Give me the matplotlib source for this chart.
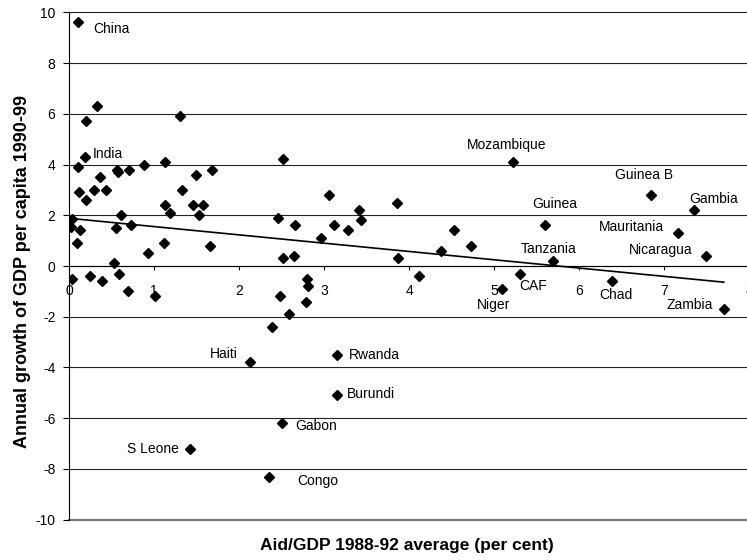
import matplotlib
matplotlib.use('Agg')
import matplotlib.pyplot as plt
import numpy as np

plt.rcParams['font.family'] = ['Liberation Sans', 'DejaVu Sans']
plt.rcParams['axes.unicode_minus'] = False

# Unlabelled countries: aid/GDP 1988-92 (x) and growth 1990-99 (y)
aid_other = [0.20, 0.32, 1.30, 0.10, 0.36, 0.56, 0.57, 0.70, 0.88, 1.12,
             1.49, 1.68, 0.11, 0.20, 0.29, 0.43, 0.03, 0.02, 0.13, 0.09,
             0.61, 0.55, 0.72, 0.52, 0.59, 0.03, 0.24, 0.38, 0.69, 0.92,
             1.01, 1.11, 1.13, 1.19, 1.33, 1.46, 1.57, 1.53, 1.66, 2.45,
             2.66, 2.51, 2.64, 3.06, 3.11, 2.96, 3.28, 3.41, 3.43, 3.86,
             3.87, 2.80, 2.81, 2.48, 2.79, 2.59, 2.51, 2.39, 4.53, 4.72,
             4.37, 4.11]
growth_other = [5.7, 6.3, 5.9, 3.9, 3.5, 3.8, 3.7, 3.8, 4.0, 4.1,
                3.6, 3.8, 2.9, 2.6, 3.0, 3.0, 1.85, 1.55, 1.4, 0.9,
                2.0, 1.5, 1.6, 0.1, -0.3, -0.5, -0.4, -0.6, -1.0, 0.5,
                -1.2, 0.9, 2.4, 2.1, 3.0, 2.4, 2.4, 2.0, 0.8, 1.9,
                1.6, 0.3, 0.4, 2.8, 1.6, 1.1, 1.4, 2.2, 1.8, 2.5,
                0.3, -0.5, -0.8, -1.2, -1.4, -1.9, 4.2, -2.4, 1.4, 0.8,
                0.6, -0.4]

# Labelled countries
countries = ['China', 'India', 'Haiti', 'Rwanda', 'Burundi', 'Gabon',
             'S Leone', 'Congo', 'Mozambique', 'Guinea', 'Tanzania', 'CAF',
             'Niger', 'Guinea B', 'Gambia', 'Mauritania', 'Nicaragua',
             'Chad', 'Zambia']
aid_named = [0.10, 0.18, 2.13, 3.15, 3.15, 2.50, 1.42, 2.35, 5.22, 5.60,
             5.69, 5.30, 5.09, 6.84, 7.35, 7.16, 7.49, 6.39, 7.70]
growth_named = [9.6, 4.3, -3.8, -3.5, -5.1, -6.2, -7.2, -8.3, 4.1, 1.6,
                0.2, -0.3, -0.9, 2.8, 2.2, 1.3, 0.4, -0.6, -1.7]

# label placement: (dx, dy) in pixels, horizontal alignment
label_pos = {
    'China': (15, -7, 'left'), 'India': (8, 3, 'left'),
    'Haiti': (-13, 8, 'right'), 'Rwanda': (12, 0, 'left'),
    'Burundi': (10, 1, 'left'), 'Gabon': (13, -3, 'left'),
    'S Leone': (-11, 0, 'right'), 'Congo': (28, -4, 'left'),
    'Mozambique': (-6, 17, 'center'), 'Guinea': (9, 21, 'center'),
    'Tanzania': (-4, 12, 'center'), 'CAF': (13, -12, 'center'),
    'Niger': (-8, -16, 'center'), 'Guinea B': (-7, 20, 'center'),
    'Gambia': (20, 11, 'center'), 'Mauritania': (-14, 6, 'right'),
    'Nicaragua': (-13, 6, 'right'), 'Chad': (3, -14, 'center'),
    'Zambia': (-11, 4, 'right'),
}

# linear trend as drawn on the original
trend_intercept = 1.88
trend_slope = -0.327

fig = plt.figure(figsize=(7.47, 5.6), dpi=100)
ax = fig.add_axes([69.3 / 747, 40.3 / 560, 680 / 747, 507.4 / 560])

ax.plot(aid_other, growth_other, 'D', color='black', ms=4.6, zorder=3)
ax.plot(aid_named, growth_named, 'D', color='black', ms=4.6, zorder=3)

for name, xv, yv in zip(countries, aid_named, growth_named):
    dx, dy, ha = label_pos[name]
    ax.annotate(name, (xv, yv), xytext=(dx, dy), textcoords='offset pixels',
                ha=ha, va='center', fontsize=10)

xs = np.array([0, max(aid_named)])
ax.plot(xs, trend_intercept + trend_slope * xs, color='black', lw=1.2, zorder=2)

ax.set_xlim(0, 8)
ax.set_ylim(-10, 10)
ax.set_xticks(range(0, 9))
ax.set_yticks(range(-10, 11, 2))

ax.spines['top'].set_visible(False)
ax.spines['right'].set_visible(False)
ax.spines['bottom'].set_position(('data', 0))
ax.spines['bottom'].set_zorder(2)

ax.yaxis.grid(True, color='#222222', lw=0.8)
for gl in ax.get_ygridlines():
    gl.set_clip_on(False)
ax.get_ygridlines()[0].set_color('#777777')
ax.get_ygridlines()[0].set_linewidth(1.6)
ax.set_axisbelow(True)

ax.tick_params(axis='y', length=4, width=0.8, pad=6, labelsize=10)
ax.tick_params(axis='x', length=3, width=0.8, pad=10, labelsize=10)

ax.set_xlabel('Aid/GDP 1988-92 average (per cent)', fontsize=12.5, fontweight='bold')
ax.xaxis.set_label_coords(0.497, -0.036)
ax.set_ylabel('Annual growth of GDP per capita 1990-99', fontsize=13, fontweight='bold')
ax.yaxis.set_label_coords(-0.056, 0.49)

fig.savefig('out.png', dpi=100)
